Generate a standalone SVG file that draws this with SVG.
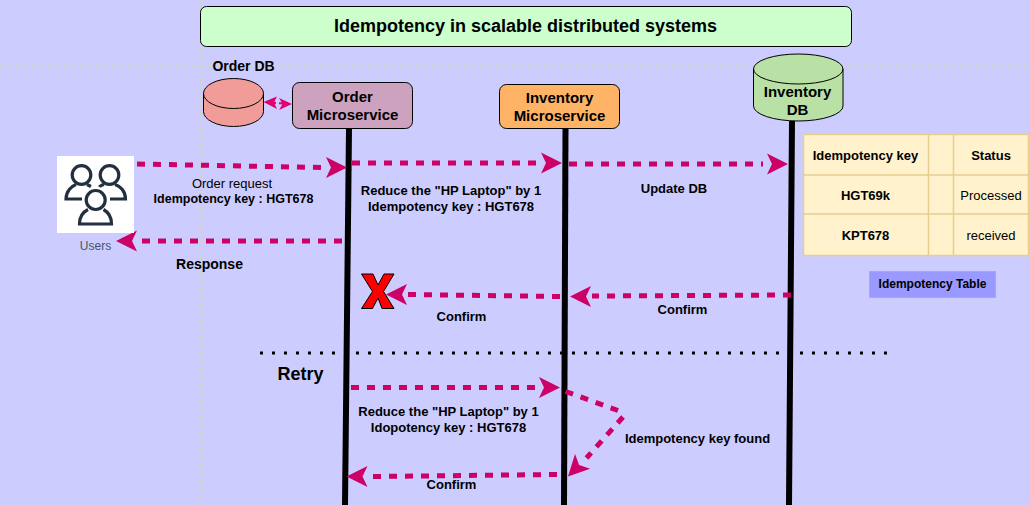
<svg xmlns="http://www.w3.org/2000/svg" width="1030" height="505" viewBox="0 0 1030 505">
<style>
text{font-family:"Liberation Sans",Arial,sans-serif;fill:#000;text-anchor:middle}
.b{font-weight:bold}
.t12{font-size:12px}.t13{font-size:13px}.t15{font-size:15px}
.box{stroke:#000;stroke-width:1}
.life{stroke:#000;stroke-width:6;fill:none}
.flow{stroke:#cc0066;stroke-width:5;stroke-dasharray:8 8;fill:none}
.ah{fill:#cc0066}
.grid{stroke:#d4d4bc;stroke-width:1;stroke-dasharray:4 4;fill:none}
.cell{fill:#fff2cc;stroke:#e6cf8e;stroke-width:1.500}
</style>
<defs>
<path id="head" class="ah" d="M0 0L-21 -10.500L-16 0L-21 10.500Z"/>
</defs>
<rect width="1030" height="505" fill="#ccccff"/>
<g id="guides">
<path class="grid" d="M0 66.500H1030M200.500 0V505"/>
</g>
<g id="title">
<rect class="box" x="200.500" y="6.500" width="651" height="40" rx="6" fill="#ccffcc"/>
<text class="b" x="525.500" y="32" font-size="18">Idempotency in scalable distributed systems</text>
</g>
<g id="order-db">
<text class="b" font-size="14" x="243.500" y="71">Order DB</text>
<path class="box" fill="#f19c99" d="M203.500 93.500A30 15 0 0 1 263.500 93.500V111.500A30 15 0 0 1 203.500 111.500Z"/>
<path class="box" fill="none" d="M203.500 93.500A30 15 0 0 0 263.500 93.500"/>
</g>
<g id="connectors">
<path class="life" d="M349 128L345 505"/>
<path class="life" d="M565.500 128L564 505"/>
<path class="life" d="M792 121L789 505"/>
<path d="M260 353H890" stroke="#000" stroke-width="3" stroke-dasharray="3 9" fill="none"/>
<path class="flow" d="M137 164L321 167.500"/>
<use href="#head" transform="translate(347 167.500)"/>
<path class="flow" d="M352 163H536"/>
<use href="#head" transform="translate(562 163)"/>
<path class="flow" d="M569 164H763"/>
<use href="#head" transform="translate(788 164)"/>
<path class="flow" d="M342 241H142"/>
<use href="#head" transform="translate(116 241) rotate(180)"/>
<path class="flow" d="M791 295L592 296"/>
<use href="#head" transform="translate(570 296.500) rotate(180)"/>
<path class="flow" d="M560 296.500L408 294.500"/>
<use href="#head" transform="translate(386 294.500) rotate(180)"/>
<path class="flow" d="M351 387.500H535"/>
<use href="#head" transform="translate(560 387.500)"/>
<path class="flow" d="M565.500 391.500L618 410.500"/>
<path class="flow" d="M623 417L586.500 458"/>
<use href="#head" transform="translate(568 476.500) rotate(134)"/>
<path class="flow" d="M557 474.500L373 476.500"/>
<use href="#head" transform="translate(346.500 476.500) rotate(180)"/>
<path d="M270 102.500L284 103.500" stroke="#e0006e" stroke-width="2" stroke-dasharray="6 3" fill="none"/>
<path fill="#e0006e" d="M263.500 102L277 96.500L274 102.500L277 109Z"/>
<path fill="#e0006e" d="M292 104L279 98L282.500 104L279 110Z"/>
</g>
<g id="order-ms">
<rect class="box" x="292.500" y="82.500" width="120" height="46" rx="7" fill="#cda2be"/>
<text class="b t15" x="352.500" y="102">Order</text>
<text class="b t15" x="352.500" y="120">Microservice</text>
</g>
<g id="inventory-ms">
<rect class="box" x="499.500" y="84.500" width="120" height="44" rx="7" fill="#ffb366"/>
<text class="b t15" x="559.500" y="103">Inventory</text>
<text class="b t15" x="559.500" y="121">Microservice</text>
</g>
<g id="inventory-db">
<path class="box" fill="#b9e0a5" d="M753.500 69A44.750 15 0 0 1 843 69V106A44.750 15 0 0 1 753.500 106Z"/>
<path class="box" fill="none" d="M753.500 69A44.750 15 0 0 0 843 69"/>
<text class="b t15" x="797.500" y="97">Inventory</text>
<text class="b t15" x="797.500" y="115">DB</text>
</g>
<g id="users">
<rect x="57" y="156" width="77" height="77" fill="#fff"/>
<g fill="none" stroke="#232f3e" stroke-width="3.200">
<circle cx="81.500" cy="175" r="9.300"/>
<circle cx="109.500" cy="175" r="9.300"/>
<circle cx="95.700" cy="200" r="9.500"/>
<path d="M82 199H66C66 191 72 186 76 184.500M87 184.500C88 185 90 186 91 186.500"/>
<path d="M110 199H125.500C125.500 191 120 186 115 184.500M104 184.500C102 185 100 186 99.500 187"/>
<path d="M88 209.500C83 212 79.500 217 79.500 224H111.500C111.500 217 108 212 103.500 209.500"/>
</g>
<text x="95.500" y="250" font-size="12" style="fill:#4a5560">Users</text>
</g>
<g id="x-mark">
<path fill="#ff0000" stroke="#000" d="M361.500 274H373L378 285L384 274H394L383.500 291.500L394 308.500H382L378 298L372.500 308.500H361.500L372.500 291.500Z"/>
</g>
<g id="idempotency-table">
<rect class="cell" x="803.500" y="134.500" width="225" height="121"/>
<path class="cell" d="M928.500 134.500V255.500M953.500 134.500V255.500M803.500 175H1028.500M803.500 214H1028.500"/>
<text class="b t13" x="865.500" y="160">Idempotency key</text>
<text class="b t13" x="991" y="160">Status</text>
<text class="b t13" x="865.500" y="200">HGT69k</text>
<text class="t13" x="991" y="200">Processed</text>
<text class="b t13" x="865.500" y="240">KPT678</text>
<text class="t13" x="991" y="240">received</text>
</g>
<g id="idempotency-label">
<rect x="869.500" y="271.500" width="126" height="26" fill="#9999ff" stroke="#a6a6ff"/>
<text class="b t12" x="932.500" y="288">Idempotency Table</text>
</g>
<g id="labels" class="t13">
<text x="232" y="188" font-size="13">Order request</text>
<text class="b" x="233.500" y="203" font-size="12.500">Idempotency key : HGT678</text>
<text class="b t13" x="451" y="195">Reduce the "HP Laptop" by 1</text>
<text class="b t13" x="451" y="211">Idempotency key : HGT678</text>
<text class="b t13" x="674" y="193">Update DB</text>
<text class="b" x="209.500" y="269" font-size="14">Response</text>
<text class="b t13" x="461.500" y="321">Confirm</text>
<text class="b t13" x="682.500" y="314">Confirm</text>
<text class="b" x="300.500" y="380" font-size="18">Retry</text>
<text class="b t13" x="448.500" y="416">Reduce the "HP Laptop" by 1</text>
<text class="b t13" x="448.500" y="432">Idopotency key : HGT678</text>
<text class="b t13" x="697.500" y="443">Idempotency key found</text>
<text class="b t13" x="451.500" y="489">Confirm</text>
</g>
</svg>
